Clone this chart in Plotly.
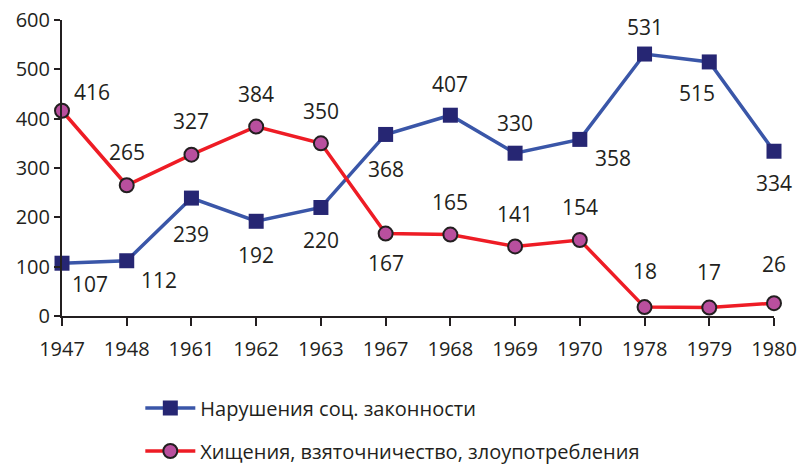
import plotly.graph_objects as go

years = ["1947", "1948", "1961", "1962", "1963", "1967", "1968", "1969", "1970", "1978", "1979", "1980"]
violations = [107, 112, 239, 192, 220, 368, 407, 330, 358, 531, 515, 334]
theft = [416, 265, 327, 384, 350, 167, 165, 141, 154, 18, 17, 26]
name_violations = "Нарушения соц. законности"
name_theft = "Хищения, взяточничество, злоупотребления"
y_ticks = [0, 100, 200, 300, 400, 500, 600]

# label offsets (pixels) – style
blue_off = [(28, -21), (32, -19), (0, -36), (0, -34), (0, -33), (0, -35), (0, 31), (0, 30), (33, -19), (0, 27), (-12, -31), (0, -32)]
red_off = [(30, 19), (0, 33), (0, 34), (0, 33), (0, 32), (0, -29), (0, 33), (0, 32), (0, 33), (0, 36), (0, 36), (0, 39)]

FONT = "Open Sans"
TXT = "#231f20"
FS = 21

fig = go.Figure()
fig.add_trace(go.Scatter(
    x=years, y=violations, name=name_violations, mode="lines+markers", legendgroup="a",
    line=dict(color="#3a56a8", width=3.5),
    marker=dict(symbol="square", size=15, color="#262673", line=dict(width=0)),
))
fig.add_trace(go.Scatter(
    x=years, y=theft, name=name_theft, mode="lines+markers", legendgroup="b",
    line=dict(color="#ee1c25", width=3.5),
    marker=dict(symbol="circle", size=14, color="#b94f9e", line=dict(width=2, color="#231f20")),
))

ann = []
for vals, offs in [(violations, blue_off), (theft, red_off)]:
    for i, (yv, (dx, dy)) in enumerate(zip(vals, offs)):
        ann.append(dict(x=i, y=yv, xref="x", yref="y", text=str(yv), showarrow=False,
                        xshift=dx, yshift=dy,
                        font=dict(family=FONT, size=FS, color=TXT), xanchor="center", yanchor="middle"))

fig.update_layout(
    width=801, height=465,
    margin=dict(l=62, r=27, t=20, b=149, autoexpand=False),
    paper_bgcolor="white", plot_bgcolor="white",
    font=dict(family=FONT, size=FS, color=TXT),
    annotations=ann,
    showlegend=True,
    legend=dict(x=0.11, y=-0.245, xanchor="left", yanchor="top", orientation="v",
                font=dict(family=FONT, size=FS - 1, color=TXT), itemwidth=50,
                tracegroupgap=14, bgcolor="rgba(0,0,0,0)"),
    xaxis=dict(type="category", range=[0, 11], showgrid=False, zeroline=False,
               showline=True, linecolor=TXT, linewidth=2,
               ticks="outside", ticklen=8, tickwidth=2, tickcolor=TXT,
               tickfont=dict(family=FONT, size=20, color=TXT), ticklabelstandoff=6),
    yaxis=dict(range=[0, 600], tickvals=y_ticks, showgrid=False, zeroline=False,
               showline=True, linecolor=TXT, linewidth=2,
               ticks="outside", ticklen=6, tickwidth=2, tickcolor=TXT,
               tickfont=dict(family=FONT, size=20, color=TXT)),
)
fig.update_traces(cliponaxis=False)
# remove the browser's default 8px body margin so the figure fills the window
fig.write_html("out.html", config={"displayModeBar": False},
               post_script="document.body.style.margin='0';")
